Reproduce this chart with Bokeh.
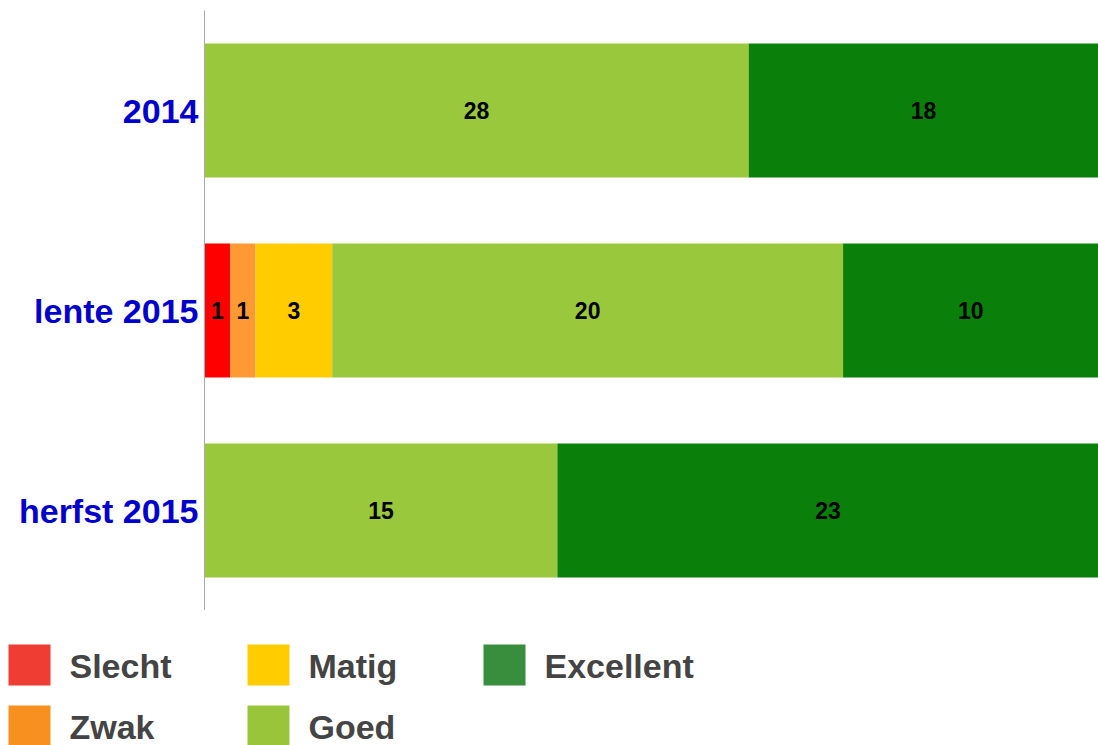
from bokeh.plotting import figure
from bokeh.models import ColumnDataSource, Range1d, FactorRange
from bokeh.layouts import column
from bokeh.core.properties import value
from bokeh.embed import file_html
from bokeh.resources import INLINE

# ---- data ----
categories = ["2014", "lente 2015", "herfst 2015"]
series = ["Slecht", "Zwak", "Matig", "Goed", "Excellent"]
slecht = [0, 1, 0]
zwak = [0, 1, 0]
matig = [0, 3, 0]
goed = [28, 20, 15]
excellent = [18, 10, 23]

bar_colors = ["#FF0000", "#FF9933", "#FFCC00", "#9AC83C", "#0A7F0A"]
legend_colors = ["#EF3D33", "#F7901E", "#FFCC00", "#99C53A", "#388E3C"]

FONT = value("Liberation Sans")
LEFT = 204
W = 1098

counts = dict(zip(series, [slecht, zwak, matig, goed, excellent]))
totals = [sum(counts[s][i] for s in series) for i in range(len(categories))]
frac = {s: [counts[s][i] / totals[i] for i in range(len(categories))] for s in series}

src = ColumnDataSource(dict(cat=categories, **frac))

# ---- main chart ----
p = figure(width=W, height=610, output_backend="svg", toolbar_location=None,
           y_range=FactorRange(*reversed(categories), range_padding=0),
           x_range=Range1d(0, 1),
           min_border_left=LEFT, min_border_top=10, min_border_bottom=0, min_border_right=0)
p.hbar_stack(series, y="cat", height=0.67, color=bar_colors, source=src, line_width=0)

# labels in segments
lx, ly, lt = [], [], []
for i, c in enumerate(categories):
    left = 0.0
    for s in series:
        f = frac[s][i]
        if counts[s][i] > 0:
            lx.append(left + f / 2)
            ly.append(c)
            lt.append(str(counts[s][i]))
        left += f
p.text(x="x", y="y", text="t", source=ColumnDataSource(dict(x=lx, y=ly, t=lt)),
       text_align="center", text_baseline="middle", text_font=FONT,
       text_font_style="bold", text_font_size="23px", text_color="black")

p.xaxis.visible = False
p.xgrid.visible = False
p.ygrid.visible = False
p.outline_line_color = None
p.yaxis.axis_line_color = "#AAAAAA"
p.yaxis.axis_line_width = 1
p.yaxis.major_tick_line_color = None
p.yaxis.minor_tick_line_color = None
p.yaxis.major_tick_out = 0
p.yaxis.major_tick_in = 0
p.yaxis.major_label_text_font = "Liberation Sans"
p.yaxis.major_label_text_font_style = "bold"
p.yaxis.major_label_text_font_size = "34px"
p.yaxis.major_label_text_color = "#0000CC"
p.yaxis.major_label_standoff = 6

# ---- legend ----
LH = 135
leg = figure(width=W, height=LH, output_backend="svg", toolbar_location=None,
             x_range=Range1d(LEFT, W), y_range=Range1d(LH, 0),
             min_border_left=LEFT, min_border_right=0, min_border_top=0,
             min_border_bottom=0)
leg.axis.visible = False
leg.grid.visible = False
leg.outline_line_color = None

leg_x = [8, 8, 247, 247, 483]
leg_y = [34, 95, 34, 95, 34]
leg_src = ColumnDataSource(dict(
    x0=leg_x, x1=[v + 42 for v in leg_x],
    y0=leg_y, y1=[v + 41 for v in leg_y],
    tx=[v + 61 for v in leg_x], ty=[v + 21 for v in leg_y],
    name=series, color=legend_colors))
r1 = leg.quad(left="x0", right="x1", top="y0", bottom="y1", color="color",
              line_width=0, source=leg_src, level="overlay")
r2 = leg.text(x="tx", y="ty", text="name", source=leg_src, text_align="left",
              text_baseline="middle", text_font=FONT, text_font_style="bold",
              text_font_size="34px", text_color="#444444", level="overlay")

layout = column(p, leg, spacing=0)
open("out.html", "w").write(file_html(layout, INLINE))
